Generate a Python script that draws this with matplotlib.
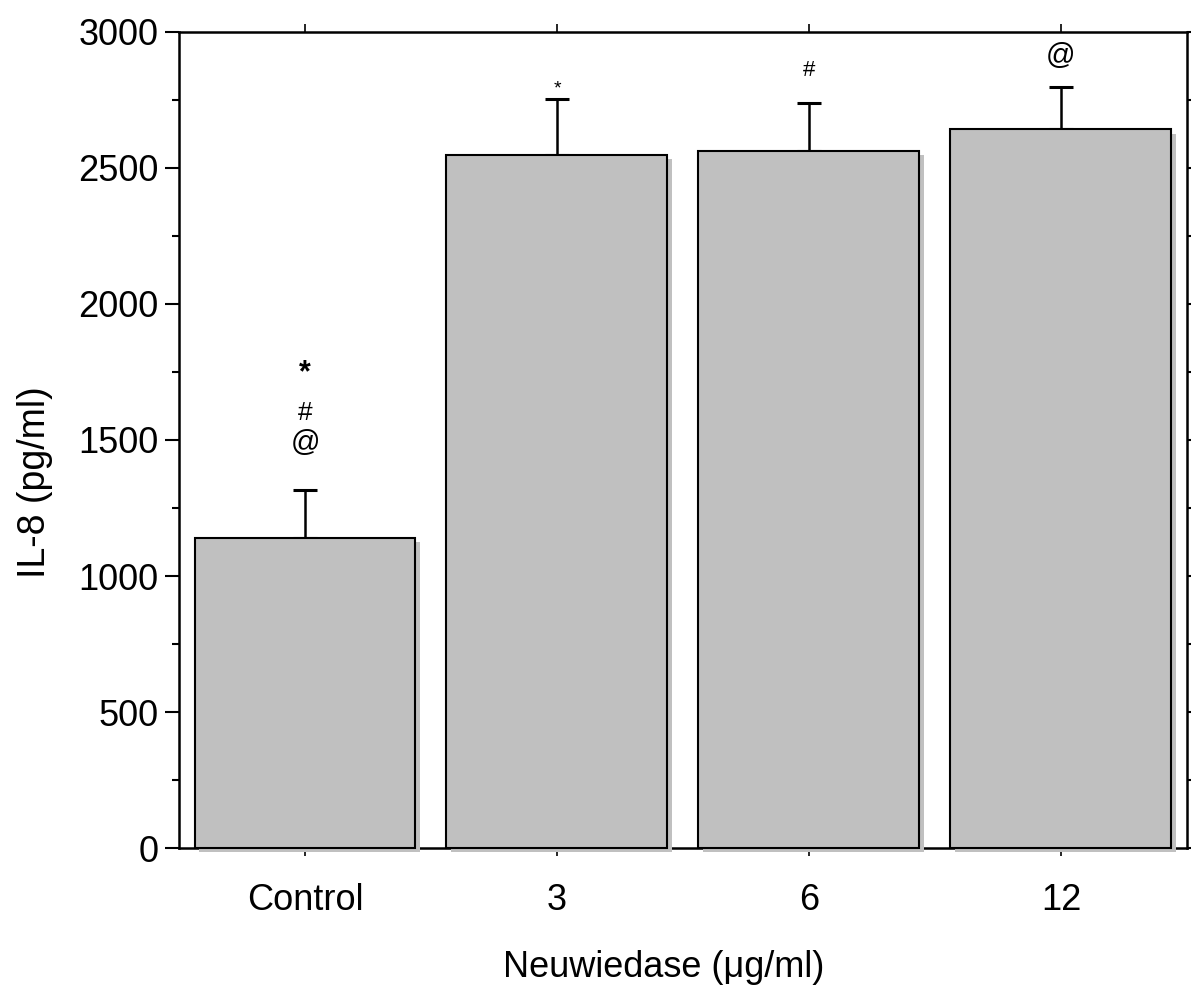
import matplotlib
matplotlib.use("Agg")
import matplotlib.pyplot as plt
import matplotlib.patheffects as pe
from matplotlib.font_manager import fontManager

names = {f.name for f in fontManager.ttflist}
fam = ["Liberation Sans Narrow"] if "Liberation Sans Narrow" in names else ["Liberation Sans"]
plt.rcParams["font.family"] = fam + ["DejaVu Sans"]

categories = ["Control", "3", "6", "12"]
values = [1140, 2548, 2563, 2642]
errors = [175, 205, 175, 155]
yticks = [0, 500, 1000, 1500, 2000, 2500, 3000]

fig = plt.figure(figsize=(11.91, 9.93), dpi=100)
ax = fig.add_axes([0.1503, 0.146, 0.8463, 0.8218])

x = list(range(len(categories)))
bars = ax.bar(x, values, width=0.877, color="#c0c0c0", edgecolor="black",
              linewidth=1.5, zorder=3, clip_on=False)
for b in bars:
    b.set_path_effects([pe.SimplePatchShadow(offset=(3, -3), shadow_rgbFace="#c0c0c0", alpha=1.0),
                        pe.Normal()])
ax.errorbar(x, values, yerr=[[0] * len(values), errors], fmt="none", ecolor="black",
            elinewidth=1.8, capsize=8.5, capthick=2.2, zorder=2)

# significance marks
ax.text(0, 1800, "*", ha="center", va="top", fontsize=22, fontweight="bold")
ax.text(0, 1600, "#", ha="center", va="center", fontsize=19)
ax.text(0, 1490, "@", ha="center", va="center", fontsize=21)
ax.text(1, 2790, "*", ha="center", va="center", fontsize=14)
ax.text(2, 2860, "#", ha="center", va="center", fontsize=16)
ax.text(3, 2910, "@", ha="center", va="center", fontsize=21)

ax.set_xlim(-0.5, 3.5)
ax.set_ylim(0, 3000)
ax.set_yticks(yticks)
ax.set_yticklabels([str(v) for v in yticks], fontsize=26)
ax.set_yticks([250, 750, 1250, 1750, 2250, 2750], minor=True)
ax.set_xticks(x)
ax.set_xticklabels(categories, fontsize=26)

ax.tick_params(axis="y", which="major", direction="out", length=10, width=1.5, pad=5,
               right=True, labelright=False)
ax.tick_params(axis="y", which="minor", direction="out", length=5, width=1.5, right=True)
ax.tick_params(axis="x", which="major", direction="out", length=6, width=1.2, pad=19,
               top=True, labeltop=False)

for s in ax.spines.values():
    s.set_linewidth(1.8)

ax.set_ylabel("IL-8 (pg/ml)", fontsize=27, va="center")
ax.yaxis.set_label_coords(-0.143, 0.4485)
ax.set_xlabel("Neuwiedase (\u03bcg/ml)", fontsize=26, va="center")
ax.xaxis.set_label_coords(0.481, -0.146)

fig.savefig("out.png", dpi=100)
